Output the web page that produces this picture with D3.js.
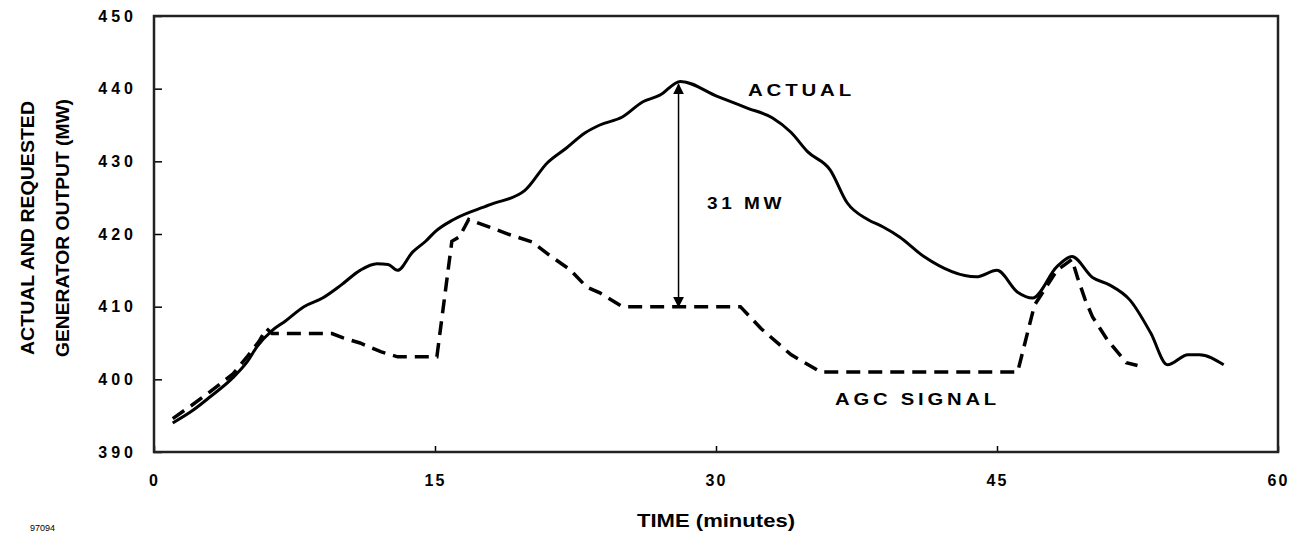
<!DOCTYPE html>
<html>
<head>
<meta charset="utf-8">
<script src="https://cdn.jsdelivr.net/npm/d3@7"></script>
<style>
  body { margin: 0; background: #fff; }
  text { font-family: Arial, "Liberation Sans", sans-serif; font-weight: bold; fill: #000; }
</style>
</head>
<body>
<div id="main"></div>
<script>
// time in minutes and generator output in MW
var actualTime = [1, 2, 3, 4.2, 5, 5.5, 6.3, 7, 8, 9, 10, 11, 11.9, 12.5, 13, 13.8, 14.5, 15, 16, 17.9, 19.8,
  21, 22, 23, 23.8, 25, 26.1, 27, 28.1, 30.1, 31.7, 33, 34, 34.9, 36.1, 37, 38.1, 38.9, 39.8, 41.1,
  43.9, 45, 46.1, 46.9, 48.2, 49, 50.1, 51, 52.1, 53.2, 54.1, 55.2, 55.8, 57.1];
var actualMW = [394, 395.6, 397.6, 400.2, 402.5, 404.5, 406.7, 408, 410, 411.2, 413, 415, 415.9, 415.8, 415, 417.5, 419, 420.3, 422, 424, 426,
  429.8, 431.8, 433.9, 435, 436.1, 438.2, 439.1, 441, 438.9, 437.3, 436, 434, 431.3, 428.8, 424.3, 422, 421, 419.6, 416.9,
  414.1, 415, 412, 411.2, 415.5, 416.9, 414, 413, 410.9, 406.4, 402, 403.4, 403.4, 402];

var agcTime = [1, 2, 3, 4.2, 5, 5.6, 6, 6.3, 9.5, 10.1, 11, 12.1, 13, 15.1, 15.9, 16.3, 16.8, 19, 20.2, 21.1, 22.2,
  23.1, 23.8, 25, 31.3, 32.4, 34, 35.6, 46.1, 47, 48.2, 49, 49.3, 49.7, 50.1, 50.9, 51.9, 52.5];
var agcMW = [394.6, 396.4, 398.3, 400.7, 403.2, 405.2, 407, 406.3, 406.3, 405.7, 405, 403.8, 403.1, 403.1, 419, 419.6, 422, 419.9, 418.9, 417.1, 415.1,
  412.7, 411.9, 410, 410, 407, 403.4, 401, 401, 410.2, 415, 416.5, 414, 411, 408.6, 405.4, 402.3, 401.9];

var xTicks = [0, 15, 30, 45, 60];
var yTicks = [390, 400, 410, 420, 430, 440, 450];

// the 31 MW gap, from the AGC level up to the peak
var gapTime = 28;
var gapMW = [410, 441];

var svg = d3.select("#main").append("svg")
  .attr("width", 1292)
  .attr("height", 533);

svg.append("rect").attr("width", 1292).attr("height", 533).attr("fill", "#fff");

var x = d3.scaleLinear().domain([0, 60]).range([154, 1278]);
var y = d3.scaleLinear().domain([390, 450]).range([452, 16]);

// axes, ticks point inward
var yAxis = svg.append("g")
  .attr("transform", "translate(154,0)")
  .call(d3.axisLeft(y).tickValues(yTicks).tickSize(-8).tickPadding(17).tickFormat(d3.format("d")));
yAxis.selectAll("text").style("font-size", "16px").style("letter-spacing", "4px");

var xAxis = svg.append("g")
  .attr("transform", "translate(0,452)")
  .call(d3.axisBottom(x).tickValues(xTicks).tickSize(-6).tickPadding(23).tickFormat(d3.format("d")));
xAxis.selectAll("text").style("font-size", "16px").style("letter-spacing", "2px");

svg.selectAll(".domain").remove();
svg.selectAll(".tick line").attr("stroke", "#000").attr("stroke-width", 1.5);

// frame
svg.append("rect")
  .attr("x", 154).attr("y", 16)
  .attr("width", 1278 - 154).attr("height", 452 - 16)
  .attr("fill", "none").attr("stroke", "#222").attr("stroke-width", 2.5);

var line = d3.line()
  .x(function(d) { return x(d[0]); })
  .y(function(d) { return y(d[1]); });

svg.append("path")
  .datum(d3.zip(agcTime, agcMW))
  .attr("d", line.curve(d3.curveLinear))
  .attr("fill", "none")
  .attr("stroke", "#000")
  .attr("stroke-width", 3.5)
  .attr("stroke-dasharray", "14,8");

svg.append("path")
  .datum(d3.zip(actualTime, actualMW))
  .attr("d", line.curve(d3.curveMonotoneX))
  .attr("fill", "none")
  .attr("stroke", "#000")
  .attr("stroke-width", 3);

// double headed arrow
var defs = svg.append("defs");
defs.append("marker")
  .attr("id", "head")
  .attr("viewBox", "0 0 10 10")
  .attr("refX", 9).attr("refY", 5)
  .attr("markerWidth", 11).attr("markerHeight", 11)
  .attr("markerUnits", "userSpaceOnUse")
  .attr("orient", "auto-start-reverse")
  .append("path")
  .attr("d", "M0,0 L10,5 L0,10 Z")
  .attr("fill", "#000");

svg.append("line")
  .attr("x1", x(gapTime)).attr("x2", x(gapTime))
  .attr("y1", y(gapMW[1]) + 3).attr("y2", y(gapMW[0]))
  .attr("stroke", "#000").attr("stroke-width", 1.5)
  .attr("marker-start", "url(#head)")
  .attr("marker-end", "url(#head)");

// labels, stretched a little like the original lettering
function label(tx, ty, w, s) {
  svg.append("text").attr("x", tx).attr("y", ty)
    .style("font-size", "16px").style("letter-spacing", "3px")
    .attr("textLength", w).attr("lengthAdjust", "spacingAndGlyphs")
    .text(s);
}
label(748, 96, 107, "ACTUAL");
label(707, 209, 78, "31 MW");
label(835, 405, 165, "AGC SIGNAL");

svg.append("text")
  .attr("x", 716).attr("y", 527)
  .attr("text-anchor", "middle")
  .style("font-size", "18px")
  .attr("textLength", 158).attr("lengthAdjust", "spacingAndGlyphs")
  .text("TIME (minutes)");

var yTitle = svg.append("text")
  .attr("transform", "translate(34,228) rotate(-90)")
  .attr("text-anchor", "middle")
  .style("font-size", "19px");
yTitle.append("tspan").attr("x", 0).attr("y", 0)
  .attr("textLength", 254).attr("lengthAdjust", "spacingAndGlyphs")
  .text("ACTUAL AND REQUESTED");
yTitle.append("tspan").attr("x", 0).attr("y", 35)
  .attr("textLength", 258).attr("lengthAdjust", "spacingAndGlyphs")
  .text("GENERATOR OUTPUT (MW)");

svg.append("text").attr("x", 30).attr("y", 531)
  .style("font-size", "9px").style("font-weight", "normal").text("97094");
</script>
</body>
</html>
